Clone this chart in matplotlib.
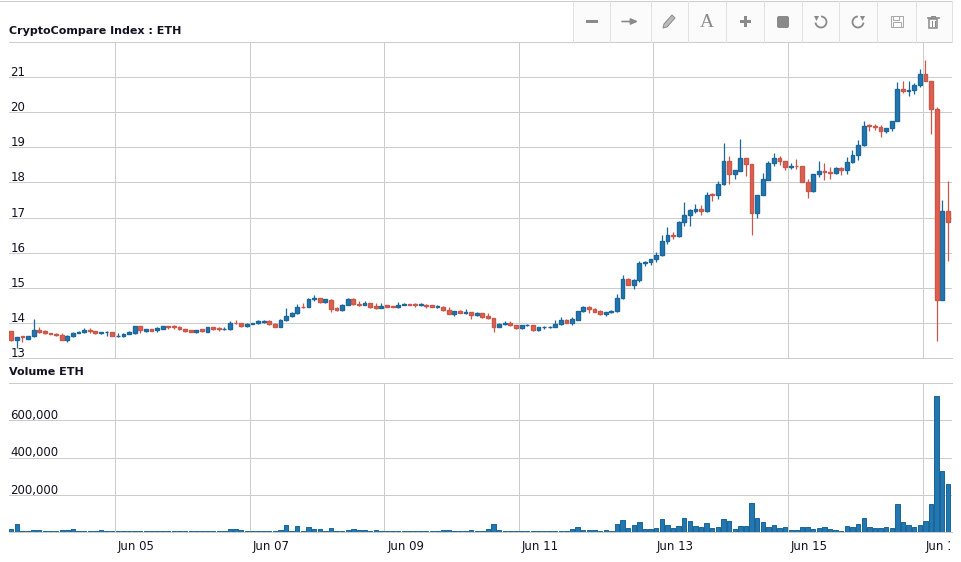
import matplotlib
matplotlib.use('Agg')
import matplotlib.pyplot as plt
import matplotlib.dates as mdates
import numpy as np
import pandas as pd
from matplotlib.patches import Rectangle, Polygon, FancyBboxPatch
from matplotlib.ticker import FuncFormatter
from matplotlib.transforms import Bbox, ScaledTranslation

# Constants
WIDTH, HEIGHT = 962, 562
BLUE = '#2277b0'
BLUE_EDGE = '#1b6799'
RED = '#e0604f'
RED_EDGE = '#c9584a'
GRID = '#cccccc'
TEXT = '#111122'
ICON = '#8a8a8a'
ONE_PX = 0.72

opens = [13.76, 13.50, 13.62, 13.55, 13.62, 13.81, 13.76, 13.71, 13.69, 13.66,
         13.52, 13.62, 13.71, 13.73, 13.81, 13.77, 13.71, 13.73, 13.74, 13.62,
         13.63, 13.69, 13.70, 13.90, 13.78, 13.82, 13.80, 13.83, 13.91, 13.91,
         13.89, 13.83, 13.79, 13.73, 13.82, 13.75, 13.87, 13.86, 13.82, 13.82,
         14.00, 14.00, 13.90, 13.97, 13.99, 14.02, 14.06, 13.98, 13.88, 14.08,
         14.19, 14.27, 14.46, 14.46, 14.67, 14.71, 14.59, 14.66, 14.41, 14.36,
         14.51, 14.69, 14.55, 14.51, 14.57, 14.48, 14.42, 14.50, 14.47, 14.44,
         14.51, 14.54, 14.53, 14.51, 14.52, 14.50, 14.46, 14.46, 14.38, 14.25,
         14.35, 14.28, 14.30, 14.22, 14.27, 14.19, 14.14, 13.88, 13.97, 13.99,
         13.94, 13.85, 13.93, 13.94, 13.79, 13.87, 13.88, 13.88, 13.96, 14.09,
         14.00, 14.08, 14.33, 14.46, 14.40, 14.35, 14.24, 14.30, 14.33, 14.71,
         15.26, 15.08, 15.22, 15.70, 15.72, 15.81, 15.93, 16.34, 16.51, 16.47,
         16.87, 17.06, 17.20, 17.25, 17.18, 17.67, 17.63, 17.95, 18.61, 18.23,
         18.34, 18.69, 18.52, 17.13, 17.64, 18.08, 18.55, 18.70, 18.61, 18.44,
         18.48, 18.47, 18.01, 17.75, 18.23, 18.32, 18.30, 18.26, 18.41, 18.36,
         18.57, 18.78, 19.06, 19.63, 19.61, 19.59, 19.46, 19.54, 19.75, 20.65,
         20.60, 20.63, 20.77, 21.09, 20.89, 20.09, 14.66, 17.19]

closes = [13.50, 13.59, 13.59, 13.64, 13.79, 13.73, 13.71, 13.68, 13.65, 13.52,
          13.64, 13.71, 13.75, 13.81, 13.76, 13.70, 13.74, 13.75, 13.63, 13.64,
          13.69, 13.73, 13.90, 13.79, 13.82, 13.78, 13.85, 13.91, 13.89, 13.88,
          13.82, 13.76, 13.74, 13.80, 13.76, 13.87, 13.83, 13.83, 13.83, 14.00,
          13.99, 13.90, 13.98, 14.00, 14.04, 14.06, 13.96, 13.88, 14.09, 14.20,
          14.29, 14.46, 14.45, 14.69, 14.72, 14.59, 14.67, 14.39, 14.36, 14.52,
          14.69, 14.53, 14.51, 14.58, 14.46, 14.42, 14.49, 14.46, 14.45, 14.52,
          14.55, 14.51, 14.51, 14.53, 14.49, 14.46, 14.48, 14.36, 14.25, 14.34,
          14.28, 14.30, 14.23, 14.28, 14.16, 14.13, 13.88, 13.98, 13.99, 13.93,
          13.85, 13.93, 13.95, 13.79, 13.88, 13.89, 13.89, 13.97, 14.09, 14.00,
          14.10, 14.34, 14.46, 14.39, 14.32, 14.24, 14.31, 14.35, 14.71, 15.26,
          15.08, 15.23, 15.71, 15.74, 15.82, 15.94, 16.34, 16.51, 16.48, 16.88,
          17.08, 17.22, 17.24, 17.18, 17.65, 17.64, 17.96, 18.61, 18.23, 18.35,
          18.69, 18.52, 17.13, 17.64, 18.09, 18.55, 18.69, 18.60, 18.43, 18.47,
          18.46, 18.01, 17.75, 18.23, 18.33, 18.29, 18.26, 18.41, 18.36, 18.57,
          18.78, 19.06, 19.61, 19.60, 19.58, 19.46, 19.54, 19.75, 20.65, 20.60,
          20.64, 20.77, 21.09, 20.89, 20.09, 14.66, 17.19, 16.88]

highs = [13.78, 13.60, 13.64, 13.64, 14.10, 13.89, 13.79, 13.72, 13.70, 13.70,
         13.65, 13.73, 13.76, 13.85, 13.85, 13.77, 13.75, 13.77, 13.75, 13.70,
         13.70, 13.76, 13.91, 13.91, 13.83, 13.83, 13.89, 13.92, 13.92, 13.93,
         13.90, 13.84, 13.80, 13.81, 13.83, 13.89, 13.88, 13.89, 13.89, 14.05,
         14.08, 14.01, 13.99, 14.01, 14.07, 14.07, 14.07, 13.99, 14.12, 14.43,
         14.31, 14.54, 14.57, 14.70, 14.80, 14.72, 14.68, 14.67, 14.46, 14.53,
         14.70, 14.70, 14.61, 14.63, 14.58, 14.57, 14.57, 14.52, 14.48, 14.60,
         14.56, 14.55, 14.57, 14.58, 14.53, 14.51, 14.51, 14.47, 14.44, 14.35,
         14.36, 14.40, 14.31, 14.30, 14.28, 14.27, 14.15, 14.00, 14.04, 14.04,
         13.95, 13.94, 13.97, 13.95, 13.89, 13.92, 13.92, 14.08, 14.17, 14.10,
         14.16, 14.35, 14.47, 14.47, 14.41, 14.36, 14.32, 14.36, 14.81, 15.35,
         15.27, 15.24, 15.75, 15.75, 15.83, 16.03, 16.50, 16.73, 16.59, 16.90,
         17.45, 17.24, 17.40, 17.36, 17.74, 17.70, 18.04, 19.12, 18.76, 18.36,
         19.23, 18.70, 18.53, 17.65, 18.27, 18.62, 18.84, 18.75, 18.62, 18.55,
         18.68, 18.48, 18.10, 18.24, 18.60, 18.55, 18.44, 18.43, 18.44, 18.72,
         18.93, 19.20, 19.75, 19.67, 19.67, 19.64, 19.55, 19.76, 20.86, 20.88,
         20.88, 20.83, 21.24, 21.49, 20.90, 20.15, 17.51, 18.04]

lows = [13.49, 13.29, 13.46, 13.54, 13.61, 13.71, 13.69, 13.67, 13.62, 13.50,
        13.46, 13.59, 13.70, 13.71, 13.71, 13.69, 13.68, 13.64, 13.62, 13.61,
        13.61, 13.68, 13.69, 13.71, 13.74, 13.77, 13.75, 13.82, 13.83, 13.84,
        13.81, 13.75, 13.73, 13.72, 13.75, 13.74, 13.80, 13.77, 13.81, 13.81,
        13.97, 13.89, 13.89, 13.96, 13.98, 14.01, 13.95, 13.87, 13.87, 14.06,
        14.17, 14.24, 14.41, 14.45, 14.63, 14.58, 14.58, 14.30, 14.35, 14.35,
        14.50, 14.52, 14.48, 14.50, 14.43, 14.39, 14.41, 14.45, 14.44, 14.43,
        14.50, 14.50, 14.46, 14.48, 14.42, 14.45, 14.42, 14.35, 14.24, 14.19,
        14.27, 14.25, 14.10, 14.21, 14.14, 14.12, 13.74, 13.87, 13.93, 13.90,
        13.84, 13.84, 13.92, 13.78, 13.78, 13.83, 13.86, 13.87, 13.95, 13.99,
        13.94, 14.07, 14.32, 14.28, 14.31, 14.23, 14.20, 14.29, 14.32, 14.68,
        15.07, 14.97, 15.16, 15.62, 15.66, 15.73, 15.90, 16.25, 16.40, 16.46,
        16.77, 16.77, 17.13, 17.06, 17.16, 17.47, 17.54, 17.92, 17.95, 18.11,
        18.33, 18.17, 16.49, 16.99, 17.63, 18.07, 18.48, 18.50, 18.36, 18.38,
        18.38, 18.00, 17.56, 17.74, 18.16, 18.08, 18.10, 18.25, 18.21, 18.23,
        18.56, 18.65, 19.05, 19.46, 19.49, 19.29, 19.41, 19.46, 19.74, 20.55,
        20.47, 20.52, 20.72, 20.88, 19.39, 13.48, 14.65, 15.77]

# volume in thousands
volumes = [14, 45, 5, 5, 9, 11, 7, 4, 4, 9,
           13, 16, 5, 4, 7, 7, 11, 4, 7, 4,
           4, 4, 4, 5, 7, 5, 4, 4, 4, 5,
           7, 5, 4, 5, 4, 4, 5, 5, 7, 16,
           18, 11, 5, 5, 5, 5, 5, 5, 9, 38,
           7, 34, 4, 29, 16, 16, 5, 23, 7, 5,
           11, 14, 11, 11, 5, 9, 5, 4, 4, 4,
           5, 4, 5, 5, 5, 4, 5, 11, 11, 5,
           5, 5, 11, 4, 4, 18, 45, 13, 5, 5,
           5, 4, 4, 5, 5, 4, 5, 5, 5, 4,
           16, 27, 13, 11, 11, 7, 11, 7, 45, 64,
           21, 39, 54, 18, 14, 23, 72, 39, 23, 32,
           77, 59, 32, 29, 50, 23, 29, 72, 59, 18,
           34, 34, 157, 77, 55, 25, 38, 21, 27, 11,
           11, 29, 27, 18, 23, 27, 18, 11, 7, 32,
           29, 43, 75, 27, 21, 23, 27, 23, 152, 54,
           39, 29, 38, 59, 150, 730, 330, 258]

price_ticks = [13, 14, 15, 16, 17, 18, 19, 20, 21]
volume_ticks = [200000, 400000, 600000]
date_ticks = ['2017-06-05', '2017-06-07', '2017-06-09', '2017-06-11',
              '2017-06-13', '2017-06-15', '2017-06-17']


def pixel_axes(fig, left, top, right, bottom):
    return fig.add_axes([left / WIDTH, 1 - bottom / HEIGHT,
                         (right - left) / WIDTH, (bottom - top) / HEIGHT])


def style_axis(ax, ticks, tick_labels_fmt, x_ticks, x_lim):
    ax.set_xlim(x_lim)
    ax.set_yticks(ticks)
    ax.yaxis.set_major_formatter(tick_labels_fmt)
    ax.set_xticks(x_ticks)
    ax.grid(True, color=GRID, linewidth=ONE_PX)
    ax.set_axisbelow(True)
    for side in ['left', 'right']:
        ax.spines[side].set_visible(False)
    for side in ['top', 'bottom']:
        ax.spines[side].set_color(GRID)
        ax.spines[side].set_linewidth(ONE_PX)
    ax.tick_params(axis='y', length=0, pad=-1, labelsize=8.5, labelcolor=TEXT)
    ax.tick_params(axis='x', length=0, labelsize=8.5, labelcolor=TEXT)
    down = ScaledTranslation(0, -2 / 100, ax.figure.dpi_scale_trans)
    for label in ax.get_yticklabels():
        label.set_ha('left')
        label.set_va('bottom')
        label.set_transform(label.get_transform() + down)


def plot_candles(ax, times, width):
    o, c, h, l = map(np.array, (opens, closes, highs, lows))
    up = c >= o
    wick_colors = [BLUE_EDGE if u else RED_EDGE for u in up]
    ax.vlines(times, l, h, colors=wick_colors, linewidth=0.9, zorder=3)
    ax.bar(times[up], (c - o)[up], bottom=o[up], width=width, color=BLUE,
           edgecolor=BLUE_EDGE, linewidth=1, zorder=4)
    ax.bar(times[~up], (o - c)[~up], bottom=c[~up], width=width, color=RED,
           edgecolor=RED_EDGE, linewidth=1, zorder=4)


def draw_toolbar(ax):
    edges = [573, 610, 651, 688, 726, 764, 802, 839, 877, 916, 952]
    ax.add_patch(Rectangle((573, 1), 379, 41, facecolor='#fbfbfb', edgecolor='none', zorder=1))
    for x in edges:
        ax.plot([x, x], [1, 42], color='#e2e2e2', linewidth=ONE_PX, zorder=2)
    # minus, arrow
    ax.add_patch(Rectangle((586, 19.5), 12, 3, facecolor=ICON, edgecolor='none', zorder=3))
    ax.annotate('', xy=(638, 21.5), xytext=(622, 21.5), zorder=3,
                arrowprops=dict(arrowstyle='-|>,head_width=0.18,head_length=0.4', color=ICON,
                                lw=1.2, shrinkA=0, shrinkB=0))
    # pencil
    ax.add_patch(Polygon([(663, 28), (664, 24), (672, 15), (675, 18), (667, 27)], closed=True,
                         facecolor='#bdbdbd', edgecolor=ICON, linewidth=ONE_PX, zorder=3))
    ax.text(707, 22.5, 'A', family='Liberation Serif', fontsize=14, color=ICON, ha='center', va='center')
    # plus
    ax.add_patch(Rectangle((740, 20), 11, 3, facecolor=ICON, edgecolor='none', zorder=3))
    ax.add_patch(Rectangle((744, 16), 3, 11, facecolor=ICON, edgecolor='none', zorder=3))
    # square
    ax.add_patch(FancyBboxPatch((778, 17), 10, 10, boxstyle='round,pad=1,rounding_size=2',
                                facecolor=ICON, edgecolor='none', zorder=3))
    # undo and redo
    for cx, start, end, tip in [(821, 80, -165, 816.5), (858, 100, 345, 862.5)]:
        t = np.radians(np.linspace(start, end, 30))
        ax.plot(cx + 5.5 * np.cos(t), 22 - 5.5 * np.sin(t), color=ICON, linewidth=1.3, zorder=3)
        ax.add_patch(Polygon([(tip - 2.5, 16), (tip + 2.5, 16), (tip, 21)], closed=True,
                             facecolor=ICON, edgecolor='none', zorder=3))
    # save
    ax.add_patch(Rectangle((891, 16), 12, 11, facecolor='none', edgecolor='#a8a8a8', linewidth=ONE_PX, zorder=3))
    ax.add_patch(Rectangle((893.5, 16), 6, 4, facecolor='none', edgecolor='#a8a8a8', linewidth=ONE_PX, zorder=3))
    ax.add_patch(Rectangle((893, 22), 8, 5, facecolor='none', edgecolor='#a8a8a8', linewidth=ONE_PX, zorder=3))
    # trash
    ax.add_patch(Rectangle((929.5, 18.5), 8, 9, facecolor='none', edgecolor=ICON, linewidth=1.1, zorder=3))
    ax.plot([928, 939], [18, 18], color=ICON, linewidth=1.2, zorder=3)
    ax.plot([931.5, 931.5, 935.5, 935.5], [18, 16, 16, 18], color=ICON, linewidth=ONE_PX, zorder=3)
    ax.plot([932.5, 932.5], [20.5, 25.5], color=ICON, linewidth=ONE_PX, zorder=3)
    ax.plot([935, 935], [20.5, 25.5], color=ICON, linewidth=ONE_PX, zorder=3)


times = mdates.date2num(pd.date_range('2017-06-03 11:00', periods=len(opens), freq='2h'))
x_ticks = mdates.date2num(pd.to_datetime(date_ticks))
px_per_day = 67.3
x_lim = (x_ticks[0] - (115 - 9) / px_per_day, x_ticks[0] + (952 - 115) / px_per_day)
bar_width = 3.8 / px_per_day

fig = plt.figure(figsize=(WIDTH / 100, HEIGHT / 100), dpi=100, facecolor='white')

# Price panel
ax_price = pixel_axes(fig, 9, 42, 952, 358)
plot_candles(ax_price, times, bar_width)
ax_price.set_ylim(13, 22)
style_axis(ax_price, price_ticks, FuncFormatter(lambda v, p: f'{v:.0f}'), x_ticks, x_lim)
ax_price.set_xticklabels([])

# Volume panel
ax_volume = pixel_axes(fig, 9, 383, 952, 532)
ax_volume.bar(times, np.array(volumes) * 1000, width=4.4 / px_per_day, color=BLUE,
              edgecolor=BLUE_EDGE, linewidth=ONE_PX, zorder=3)
ax_volume.set_ylim(0, 800000)
style_axis(ax_volume, volume_ticks, FuncFormatter(lambda v, p: f'{v:,.0f}'), x_ticks, x_lim)
ax_volume.xaxis.set_major_formatter(mdates.DateFormatter('%b %d'))
ax_volume.tick_params(axis='x', pad=6)
right = ScaledTranslation(3 / 100, 0, fig.dpi_scale_trans)
for label in ax_volume.get_xticklabels():
    label.set_ha('left')
    label.set_transform(label.get_transform() + right)
    label.set_clip_box(Bbox([[0, 0], [949.5, HEIGHT]]))
    label.set_clip_on(True)

# Overlay for titles and the toolbar, in pixel coordinates
overlay = fig.add_axes([0, 0, 1, 1], facecolor='none')
overlay.set_xlim(0, WIDTH)
overlay.set_ylim(HEIGHT, 0)
overlay.axis('off')
overlay.plot([0, 952], [1, 1], color=GRID, linewidth=ONE_PX)
draw_toolbar(overlay)
overlay.text(9, 31, 'CryptoCompare Index : ETH', fontsize=8, fontweight='bold', color=TEXT, ha='left', va='center')
overlay.text(9, 372, 'Volume ETH', fontsize=8, fontweight='bold', color=TEXT, ha='left', va='center')

fig.savefig('out.png', dpi=100)
